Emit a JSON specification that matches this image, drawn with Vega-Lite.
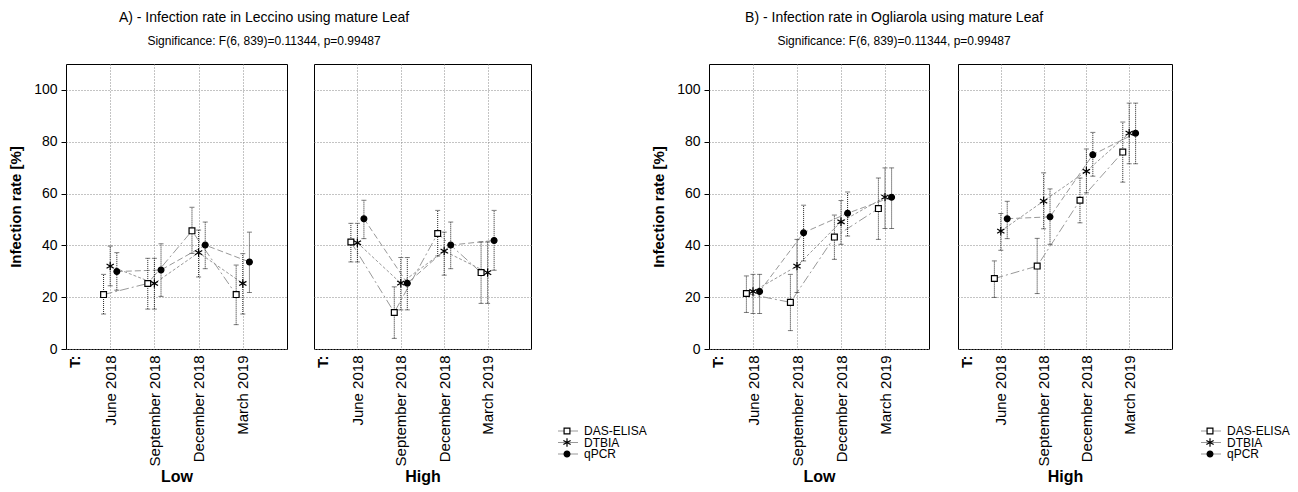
{
  "$schema": "https://vega.github.io/schema/vega-lite/v6.json",
  "padding": {"left": 8, "top": 10, "right": 0, "bottom": 0},
  "background": "white",
  "config": {
    "font": "Liberation Sans",
    "view": {"stroke": "black", "strokeWidth": 1},
    "axis": {"gridColor": "#888", "gridDash": [1, 2], "gridWidth": 1, "labelColor": "black", "titleColor": "black", "domain": false},
    "title": {"fontSize": 14, "fontWeight": "normal", "subtitleFontSize": 12, "subtitleColor": "black", "color": "black", "anchor": "middle", "frame": "bounds", "subtitlePadding": 11, "offset": 17}
  },
  "data": {"values": [
    {"cultivar": "Leccino", "level": "Low", "month": "June 2018", "method": "DAS-ELISA", "mean": 21.0, "lo": 13.5, "hi": 28.8},
    {"cultivar": "Leccino", "level": "Low", "month": "June 2018", "method": "DTBIA", "mean": 32.0, "lo": 24.4, "hi": 39.7},
    {"cultivar": "Leccino", "level": "Low", "month": "June 2018", "method": "qPCR", "mean": 29.9, "lo": 22.7, "hi": 37.2},
    {"cultivar": "Leccino", "level": "Low", "month": "September 2018", "method": "DAS-ELISA", "mean": 25.3, "lo": 15.4, "hi": 35.0},
    {"cultivar": "Leccino", "level": "Low", "month": "September 2018", "method": "DTBIA", "mean": 25.3, "lo": 15.4, "hi": 35.0},
    {"cultivar": "Leccino", "level": "Low", "month": "September 2018", "method": "qPCR", "mean": 30.5, "lo": 20.3, "hi": 40.6},
    {"cultivar": "Leccino", "level": "Low", "month": "December 2018", "method": "DAS-ELISA", "mean": 45.6, "lo": 36.9, "hi": 54.7},
    {"cultivar": "Leccino", "level": "Low", "month": "December 2018", "method": "DTBIA", "mean": 37.2, "lo": 27.8, "hi": 45.9},
    {"cultivar": "Leccino", "level": "Low", "month": "December 2018", "method": "qPCR", "mean": 40.1, "lo": 31.0, "hi": 49.0},
    {"cultivar": "Leccino", "level": "Low", "month": "March 2019", "method": "DAS-ELISA", "mean": 21.0, "lo": 9.4, "hi": 32.4},
    {"cultivar": "Leccino", "level": "Low", "month": "March 2019", "method": "DTBIA", "mean": 25.3, "lo": 13.5, "hi": 36.8},
    {"cultivar": "Leccino", "level": "Low", "month": "March 2019", "method": "qPCR", "mean": 33.6, "lo": 21.8, "hi": 45.1},
    {"cultivar": "Leccino", "level": "High", "month": "June 2018", "method": "DAS-ELISA", "mean": 41.3, "lo": 33.6, "hi": 48.5},
    {"cultivar": "Leccino", "level": "High", "month": "June 2018", "method": "DTBIA", "mean": 41.0, "lo": 33.6, "hi": 48.5},
    {"cultivar": "Leccino", "level": "High", "month": "June 2018", "method": "qPCR", "mean": 50.3, "lo": 42.6, "hi": 57.4},
    {"cultivar": "Leccino", "level": "High", "month": "September 2018", "method": "DAS-ELISA", "mean": 14.1, "lo": 4.1, "hi": 24.0},
    {"cultivar": "Leccino", "level": "High", "month": "September 2018", "method": "DTBIA", "mean": 25.4, "lo": 15.1, "hi": 35.3},
    {"cultivar": "Leccino", "level": "High", "month": "September 2018", "method": "qPCR", "mean": 25.4, "lo": 15.1, "hi": 35.3},
    {"cultivar": "Leccino", "level": "High", "month": "December 2018", "method": "DAS-ELISA", "mean": 44.6, "lo": 35.9, "hi": 53.5},
    {"cultivar": "Leccino", "level": "High", "month": "December 2018", "method": "DTBIA", "mean": 37.8, "lo": 28.5, "hi": 45.1},
    {"cultivar": "Leccino", "level": "High", "month": "December 2018", "method": "qPCR", "mean": 40.1, "lo": 31.0, "hi": 49.0},
    {"cultivar": "Leccino", "level": "High", "month": "March 2019", "method": "DAS-ELISA", "mean": 29.5, "lo": 17.6, "hi": 41.3},
    {"cultivar": "Leccino", "level": "High", "month": "March 2019", "method": "DTBIA", "mean": 29.5, "lo": 17.6, "hi": 41.3},
    {"cultivar": "Leccino", "level": "High", "month": "March 2019", "method": "qPCR", "mean": 41.9, "lo": 30.4, "hi": 53.5},
    {"cultivar": "Ogliarola", "level": "Low", "month": "June 2018", "method": "DAS-ELISA", "mean": 21.4, "lo": 14.1, "hi": 28.2},
    {"cultivar": "Ogliarola", "level": "Low", "month": "June 2018", "method": "DTBIA", "mean": 22.2, "lo": 13.7, "hi": 28.8},
    {"cultivar": "Ogliarola", "level": "Low", "month": "June 2018", "method": "qPCR", "mean": 22.2, "lo": 13.7, "hi": 28.8},
    {"cultivar": "Ogliarola", "level": "Low", "month": "September 2018", "method": "DAS-ELISA", "mean": 18.0, "lo": 7.1, "hi": 28.8},
    {"cultivar": "Ogliarola", "level": "Low", "month": "September 2018", "method": "DTBIA", "mean": 32.0, "lo": 21.8, "hi": 42.3},
    {"cultivar": "Ogliarola", "level": "Low", "month": "September 2018", "method": "qPCR", "mean": 44.9, "lo": 34.0, "hi": 55.5},
    {"cultivar": "Ogliarola", "level": "Low", "month": "December 2018", "method": "DAS-ELISA", "mean": 43.2, "lo": 34.6, "hi": 51.7},
    {"cultivar": "Ogliarola", "level": "Low", "month": "December 2018", "method": "DTBIA", "mean": 49.1, "lo": 40.4, "hi": 57.3},
    {"cultivar": "Ogliarola", "level": "Low", "month": "December 2018", "method": "qPCR", "mean": 52.4, "lo": 43.6, "hi": 60.6},
    {"cultivar": "Ogliarola", "level": "Low", "month": "March 2019", "method": "DAS-ELISA", "mean": 54.2, "lo": 42.3, "hi": 66.0},
    {"cultivar": "Ogliarola", "level": "Low", "month": "March 2019", "method": "DTBIA", "mean": 58.6, "lo": 46.5, "hi": 69.9},
    {"cultivar": "Ogliarola", "level": "Low", "month": "March 2019", "method": "qPCR", "mean": 58.6, "lo": 46.5, "hi": 69.9},
    {"cultivar": "Ogliarola", "level": "High", "month": "June 2018", "method": "DAS-ELISA", "mean": 27.2, "lo": 19.9, "hi": 34.0},
    {"cultivar": "Ogliarola", "level": "High", "month": "June 2018", "method": "DTBIA", "mean": 45.5, "lo": 38.1, "hi": 52.3},
    {"cultivar": "Ogliarola", "level": "High", "month": "June 2018", "method": "qPCR", "mean": 50.3, "lo": 42.6, "hi": 57.0},
    {"cultivar": "Ogliarola", "level": "High", "month": "September 2018", "method": "DAS-ELISA", "mean": 32.0, "lo": 21.4, "hi": 42.7},
    {"cultivar": "Ogliarola", "level": "High", "month": "September 2018", "method": "DTBIA", "mean": 57.1, "lo": 46.4, "hi": 68.0},
    {"cultivar": "Ogliarola", "level": "High", "month": "September 2018", "method": "qPCR", "mean": 51.0, "lo": 40.4, "hi": 61.8},
    {"cultivar": "Ogliarola", "level": "High", "month": "December 2018", "method": "DAS-ELISA", "mean": 57.4, "lo": 48.7, "hi": 66.0},
    {"cultivar": "Ogliarola", "level": "High", "month": "December 2018", "method": "DTBIA", "mean": 68.6, "lo": 60.3, "hi": 77.2},
    {"cultivar": "Ogliarola", "level": "High", "month": "December 2018", "method": "qPCR", "mean": 75.0, "lo": 66.7, "hi": 83.6},
    {"cultivar": "Ogliarola", "level": "High", "month": "March 2019", "method": "DAS-ELISA", "mean": 76.0, "lo": 64.4, "hi": 87.6},
    {"cultivar": "Ogliarola", "level": "High", "month": "March 2019", "method": "DTBIA", "mean": 83.3, "lo": 71.5, "hi": 94.9},
    {"cultivar": "Ogliarola", "level": "High", "month": "March 2019", "method": "qPCR", "mean": 83.3, "lo": 71.5, "hi": 94.9}
  ]},
  "spacing": -3,
  "hconcat": [
    {
      "title": {"text": "A) - Infection rate in Leccino using mature Leaf", "subtitle": "Significance: F(6, 839)=0.11344, p=0.99487", "dx": -67},
      "spacing": 25,
      "hconcat": [
        {
          "width": 221, "height": 285,
          "transform": [
            {"filter": "datum.cultivar === 'Leccino' && datum.level === 'Low'"},
            {"calculate": "indexof(['June 2018','September 2018','December 2018','March 2019'], datum.month) + 1 + (datum.method === 'DAS-ELISA' ? -0.15 : datum.method === 'qPCR' ? 0.15 : 0)", "as": "xpos"}
          ],
          "encoding": {
            "x": {"field": "xpos", "type": "quantitative", "scale": {"domain": [0, 5], "nice": false, "zero": false},
              "axis": {"values": [0.2, 1, 2, 3, 4], "labelExpr": "datum.value < 0.5 ? 'T:' : ['June 2018','September 2018','December 2018','March 2019'][round(datum.value) - 1]", "labelAngle": 270, "labelFontSize": 15, "labelFontWeight": {"condition": {"test": "datum.value < 0.5", "value": "bold"}, "value": "normal"}, "labelFlush": false, "labelOverlap": false, "labelBound": false, "labelPadding": 6, "ticks": false, "gridOpacity": {"condition": {"test": "datum.value < 0.5", "value": 0}, "value": 1}, "title": "Low", "titleFontSize": 16, "titleFontWeight": "bold", "titlePadding": 3}}
          },
          "layer": [
            {"mark": {"type": "line", "color": "#999", "strokeWidth": 1},
             "encoding": {"y": {"field": "mean", "type": "quantitative", "scale": {"domain": [0, 110], "nice": false},
               "axis": {"values": [0, 20, 40, 60, 80, 100], "labelFontSize": 14, "tickSize": 5, "tickColor": "black", "labelPadding": 4, "title": "Infection rate [%]", "titleFontSize": 15, "titleFontWeight": "bold", "titlePadding": 10}},
               "strokeDash": {"field": "method", "type": "nominal", "scale": {"domain": ["DAS-ELISA", "DTBIA", "qPCR"], "range": [[9, 3, 2, 3], [3, 2], [6, 3]]}, "legend": null}}},
            {"mark": {"type": "rule", "color": "#222", "strokeDash": [1, 1], "strokeWidth": 1},
             "encoding": {"y": {"field": "lo", "type": "quantitative"}, "y2": {"field": "hi"}}},
            {"mark": {"type": "tick", "color": "#444", "thickness": 1, "size": 5, "orient": "horizontal"},
             "encoding": {"y": {"field": "lo", "type": "quantitative"}}},
            {"mark": {"type": "tick", "color": "#444", "thickness": 1, "size": 5, "orient": "horizontal"},
             "encoding": {"y": {"field": "hi", "type": "quantitative"}}},
            {"mark": {"type": "point", "filled": true, "stroke": "black", "strokeWidth": 1.2, "opacity": 1},
             "encoding": {"y": {"field": "mean", "type": "quantitative"},
               "shape": {"field": "method", "type": "nominal", "scale": {"domain": ["DAS-ELISA", "DTBIA", "qPCR"], "range": ["square", "M0,-1L0,1M-0.87,-0.5L0.87,0.5M-0.87,0.5L0.87,-0.5", "circle"]}, "legend": null},
               "fill": {"condition": {"test": "datum.method === 'DAS-ELISA'", "value": "white"}, "value": "black"},
               "size": {"condition": {"test": "datum.method === 'DTBIA'", "value": 70}, "value": 34}}}
          ]
        },
        {
          "width": 217, "height": 285,
          "transform": [
            {"filter": "datum.cultivar === 'Leccino' && datum.level === 'High'"},
            {"calculate": "indexof(['June 2018','September 2018','December 2018','March 2019'], datum.month) + 1 + (datum.method === 'DAS-ELISA' ? -0.15 : datum.method === 'qPCR' ? 0.15 : 0)", "as": "xpos"}
          ],
          "encoding": {
            "x": {"field": "xpos", "type": "quantitative", "scale": {"domain": [0, 5], "nice": false, "zero": false},
              "axis": {"values": [0.2, 1, 2, 3, 4], "labelExpr": "datum.value < 0.5 ? 'T:' : ['June 2018','September 2018','December 2018','March 2019'][round(datum.value) - 1]", "labelAngle": 270, "labelFontSize": 15, "labelFontWeight": {"condition": {"test": "datum.value < 0.5", "value": "bold"}, "value": "normal"}, "labelFlush": false, "labelOverlap": false, "labelBound": false, "labelPadding": 6, "ticks": false, "gridOpacity": {"condition": {"test": "datum.value < 0.5", "value": 0}, "value": 1}, "title": "High", "titleFontSize": 16, "titleFontWeight": "bold", "titlePadding": 3}}
          },
          "layer": [
            {"mark": {"type": "line", "color": "#999", "strokeWidth": 1},
             "encoding": {"y": {"field": "mean", "type": "quantitative", "scale": {"domain": [0, 110], "nice": false},
               "axis": {"values": [0, 20, 40, 60, 80, 100], "labels": false, "ticks": false, "title": null}},
               "strokeDash": {"field": "method", "type": "nominal", "scale": {"domain": ["DAS-ELISA", "DTBIA", "qPCR"], "range": [[9, 3, 2, 3], [3, 2], [6, 3]]}, "legend": null}}},
            {"mark": {"type": "rule", "color": "#222", "strokeDash": [1, 1], "strokeWidth": 1},
             "encoding": {"y": {"field": "lo", "type": "quantitative"}, "y2": {"field": "hi"}}},
            {"mark": {"type": "tick", "color": "#444", "thickness": 1, "size": 5, "orient": "horizontal"},
             "encoding": {"y": {"field": "lo", "type": "quantitative"}}},
            {"mark": {"type": "tick", "color": "#444", "thickness": 1, "size": 5, "orient": "horizontal"},
             "encoding": {"y": {"field": "hi", "type": "quantitative"}}},
            {"mark": {"type": "point", "filled": true, "stroke": "black", "strokeWidth": 1.2, "opacity": 1},
             "encoding": {"y": {"field": "mean", "type": "quantitative"},
               "shape": {"field": "method", "type": "nominal", "scale": {"domain": ["DAS-ELISA", "DTBIA", "qPCR"], "range": ["square", "M0,-1L0,1M-0.87,-0.5L0.87,0.5M-0.87,0.5L0.87,-0.5", "circle"]}, "legend": null},
               "fill": {"condition": {"test": "datum.method === 'DAS-ELISA'", "value": "white"}, "value": "black"},
               "size": {"condition": {"test": "datum.method === 'DTBIA'", "value": 70}, "value": 34}}}
          ]
        },
        {
          "width": 96, "height": 285,
          "view": {"stroke": null},
          "transform": [{"filter": "datum.cultivar === 'Leccino' && datum.level === 'Low' && datum.month === 'June 2018'"}],
          "encoding": {
            "y": {"field": "method", "type": "nominal", "scale": {"type": "point", "padding": 0, "domain": ["DAS-ELISA", "DTBIA", "qPCR"], "range": [367, 390]}, "axis": null}
          },
          "layer": [
            {"mark": {"type": "rule", "color": "#999", "strokeWidth": 1},
             "encoding": {"x": {"datum": 0, "type": "quantitative", "scale": {"domain": [0, 9.6], "nice": false, "zero": false}, "axis": null}, "x2": {"datum": 2.0}}},
            {"mark": {"type": "point", "filled": true, "stroke": "black", "strokeWidth": 1.2, "opacity": 1},
             "encoding": {"x": {"datum": 0.9, "type": "quantitative", "axis": null},
               "shape": {"field": "method", "type": "nominal", "scale": {"domain": ["DAS-ELISA", "DTBIA", "qPCR"], "range": ["square", "M0,-1L0,1M-0.87,-0.5L0.87,0.5M-0.87,0.5L0.87,-0.5", "circle"]}, "legend": null},
               "fill": {"condition": {"test": "datum.method === 'DAS-ELISA'", "value": "white"}, "value": "black"},
               "size": {"condition": {"test": "datum.method === 'DTBIA'", "value": 70}, "value": 34}}},
            {"mark": {"type": "text", "align": "left", "baseline": "middle", "fontSize": 12, "color": "black"},
             "encoding": {"x": {"datum": 2.6, "type": "quantitative", "axis": null}, "text": {"field": "method"}}}
          ]
        }
      ]
    },
    {
      "title": {"text": "B) - Infection rate in Ogliarola using mature Leaf", "subtitle": "Significance: F(6, 839)=0.11344, p=0.99487", "dx": -80},
      "spacing": 27,
      "hconcat": [
        {
          "width": 220, "height": 285,
          "transform": [
            {"filter": "datum.cultivar === 'Ogliarola' && datum.level === 'Low'"},
            {"calculate": "indexof(['June 2018','September 2018','December 2018','March 2019'], datum.month) + 1 + (datum.method === 'DAS-ELISA' ? -0.15 : datum.method === 'qPCR' ? 0.15 : 0)", "as": "xpos"}
          ],
          "encoding": {
            "x": {"field": "xpos", "type": "quantitative", "scale": {"domain": [0, 5], "nice": false, "zero": false},
              "axis": {"values": [0.2, 1, 2, 3, 4], "labelExpr": "datum.value < 0.5 ? 'T:' : ['June 2018','September 2018','December 2018','March 2019'][round(datum.value) - 1]", "labelAngle": 270, "labelFontSize": 15, "labelFontWeight": {"condition": {"test": "datum.value < 0.5", "value": "bold"}, "value": "normal"}, "labelFlush": false, "labelOverlap": false, "labelBound": false, "labelPadding": 6, "ticks": false, "gridOpacity": {"condition": {"test": "datum.value < 0.5", "value": 0}, "value": 1}, "title": "Low", "titleFontSize": 16, "titleFontWeight": "bold", "titlePadding": 3}}
          },
          "layer": [
            {"mark": {"type": "line", "color": "#999", "strokeWidth": 1},
             "encoding": {"y": {"field": "mean", "type": "quantitative", "scale": {"domain": [0, 110], "nice": false},
               "axis": {"values": [0, 20, 40, 60, 80, 100], "labelFontSize": 14, "tickSize": 5, "tickColor": "black", "labelPadding": 4, "title": "Infection rate [%]", "titleFontSize": 15, "titleFontWeight": "bold", "titlePadding": 10}},
               "strokeDash": {"field": "method", "type": "nominal", "scale": {"domain": ["DAS-ELISA", "DTBIA", "qPCR"], "range": [[9, 3, 2, 3], [3, 2], [6, 3]]}, "legend": null}}},
            {"mark": {"type": "rule", "color": "#222", "strokeDash": [1, 1], "strokeWidth": 1},
             "encoding": {"y": {"field": "lo", "type": "quantitative"}, "y2": {"field": "hi"}}},
            {"mark": {"type": "tick", "color": "#444", "thickness": 1, "size": 5, "orient": "horizontal"},
             "encoding": {"y": {"field": "lo", "type": "quantitative"}}},
            {"mark": {"type": "tick", "color": "#444", "thickness": 1, "size": 5, "orient": "horizontal"},
             "encoding": {"y": {"field": "hi", "type": "quantitative"}}},
            {"mark": {"type": "point", "filled": true, "stroke": "black", "strokeWidth": 1.2, "opacity": 1},
             "encoding": {"y": {"field": "mean", "type": "quantitative"},
               "shape": {"field": "method", "type": "nominal", "scale": {"domain": ["DAS-ELISA", "DTBIA", "qPCR"], "range": ["square", "M0,-1L0,1M-0.87,-0.5L0.87,0.5M-0.87,0.5L0.87,-0.5", "circle"]}, "legend": null},
               "fill": {"condition": {"test": "datum.method === 'DAS-ELISA'", "value": "white"}, "value": "black"},
               "size": {"condition": {"test": "datum.method === 'DTBIA'", "value": 70}, "value": 34}}}
          ]
        },
        {
          "width": 214, "height": 285,
          "transform": [
            {"filter": "datum.cultivar === 'Ogliarola' && datum.level === 'High'"},
            {"calculate": "indexof(['June 2018','September 2018','December 2018','March 2019'], datum.month) + 1 + (datum.method === 'DAS-ELISA' ? -0.15 : datum.method === 'qPCR' ? 0.15 : 0)", "as": "xpos"}
          ],
          "encoding": {
            "x": {"field": "xpos", "type": "quantitative", "scale": {"domain": [0, 5], "nice": false, "zero": false},
              "axis": {"values": [0.2, 1, 2, 3, 4], "labelExpr": "datum.value < 0.5 ? 'T:' : ['June 2018','September 2018','December 2018','March 2019'][round(datum.value) - 1]", "labelAngle": 270, "labelFontSize": 15, "labelFontWeight": {"condition": {"test": "datum.value < 0.5", "value": "bold"}, "value": "normal"}, "labelFlush": false, "labelOverlap": false, "labelBound": false, "labelPadding": 6, "ticks": false, "gridOpacity": {"condition": {"test": "datum.value < 0.5", "value": 0}, "value": 1}, "title": "High", "titleFontSize": 16, "titleFontWeight": "bold", "titlePadding": 3}}
          },
          "layer": [
            {"mark": {"type": "line", "color": "#999", "strokeWidth": 1},
             "encoding": {"y": {"field": "mean", "type": "quantitative", "scale": {"domain": [0, 110], "nice": false},
               "axis": {"values": [0, 20, 40, 60, 80, 100], "labels": false, "ticks": false, "title": null}},
               "strokeDash": {"field": "method", "type": "nominal", "scale": {"domain": ["DAS-ELISA", "DTBIA", "qPCR"], "range": [[9, 3, 2, 3], [3, 2], [6, 3]]}, "legend": null}}},
            {"mark": {"type": "rule", "color": "#222", "strokeDash": [1, 1], "strokeWidth": 1},
             "encoding": {"y": {"field": "lo", "type": "quantitative"}, "y2": {"field": "hi"}}},
            {"mark": {"type": "tick", "color": "#444", "thickness": 1, "size": 5, "orient": "horizontal"},
             "encoding": {"y": {"field": "lo", "type": "quantitative"}}},
            {"mark": {"type": "tick", "color": "#444", "thickness": 1, "size": 5, "orient": "horizontal"},
             "encoding": {"y": {"field": "hi", "type": "quantitative"}}},
            {"mark": {"type": "point", "filled": true, "stroke": "black", "strokeWidth": 1.2, "opacity": 1},
             "encoding": {"y": {"field": "mean", "type": "quantitative"},
               "shape": {"field": "method", "type": "nominal", "scale": {"domain": ["DAS-ELISA", "DTBIA", "qPCR"], "range": ["square", "M0,-1L0,1M-0.87,-0.5L0.87,0.5M-0.87,0.5L0.87,-0.5", "circle"]}, "legend": null},
               "fill": {"condition": {"test": "datum.method === 'DAS-ELISA'", "value": "white"}, "value": "black"},
               "size": {"condition": {"test": "datum.method === 'DTBIA'", "value": 70}, "value": 34}}}
          ]
        },
        {
          "width": 96, "height": 285,
          "view": {"stroke": null},
          "transform": [{"filter": "datum.cultivar === 'Ogliarola' && datum.level === 'Low' && datum.month === 'June 2018'"}],
          "encoding": {
            "y": {"field": "method", "type": "nominal", "scale": {"type": "point", "padding": 0, "domain": ["DAS-ELISA", "DTBIA", "qPCR"], "range": [367, 390]}, "axis": null}
          },
          "layer": [
            {"mark": {"type": "rule", "color": "#999", "strokeWidth": 1},
             "encoding": {"x": {"datum": 0, "type": "quantitative", "scale": {"domain": [0, 9.6], "nice": false, "zero": false}, "axis": null}, "x2": {"datum": 2.0}}},
            {"mark": {"type": "point", "filled": true, "stroke": "black", "strokeWidth": 1.2, "opacity": 1},
             "encoding": {"x": {"datum": 0.9, "type": "quantitative", "axis": null},
               "shape": {"field": "method", "type": "nominal", "scale": {"domain": ["DAS-ELISA", "DTBIA", "qPCR"], "range": ["square", "M0,-1L0,1M-0.87,-0.5L0.87,0.5M-0.87,0.5L0.87,-0.5", "circle"]}, "legend": null},
               "fill": {"condition": {"test": "datum.method === 'DAS-ELISA'", "value": "white"}, "value": "black"},
               "size": {"condition": {"test": "datum.method === 'DTBIA'", "value": 70}, "value": 34}}},
            {"mark": {"type": "text", "align": "left", "baseline": "middle", "fontSize": 12, "color": "black"},
             "encoding": {"x": {"datum": 2.6, "type": "quantitative", "axis": null}, "text": {"field": "method"}}}
          ]
        }
      ]
    }
  ]
}
